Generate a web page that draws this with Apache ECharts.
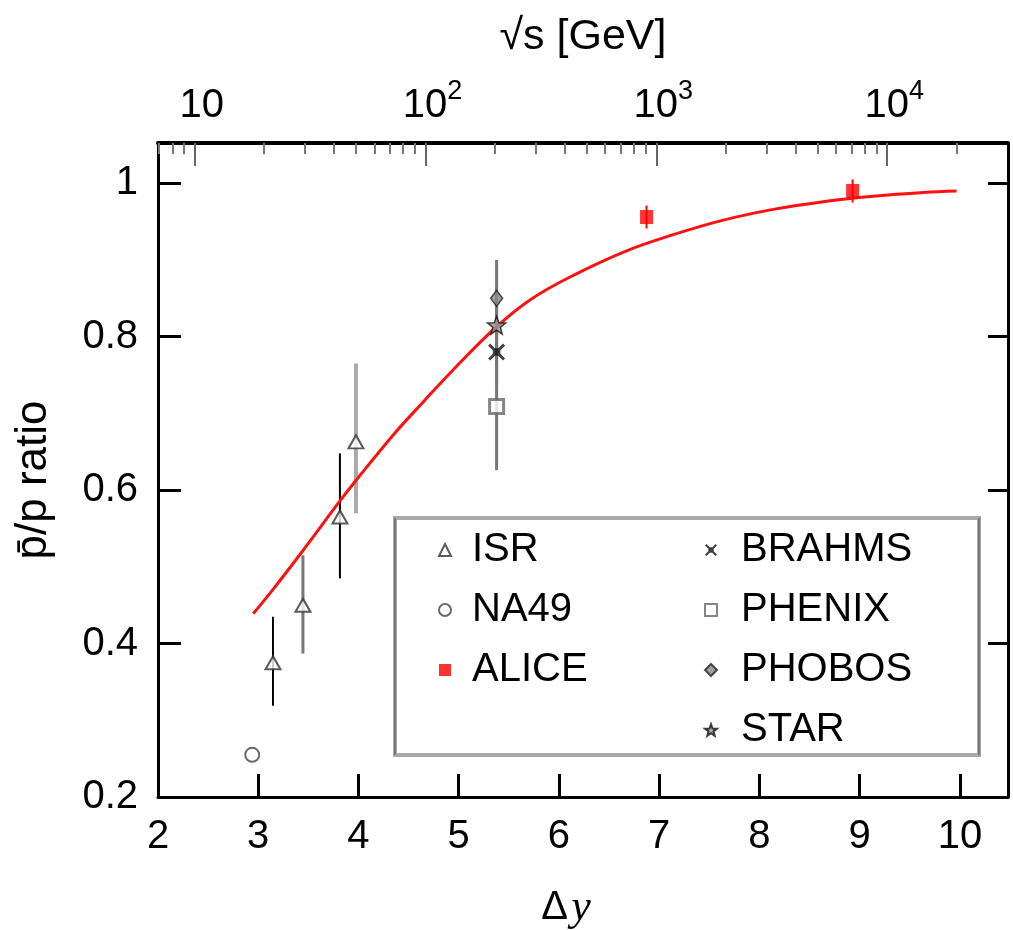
<!DOCTYPE html>
<html>
<head>
<meta charset="utf-8">
<script src="https://cdn.jsdelivr.net/npm/echarts@6/dist/echarts.min.js"></script>
<style>
html,body{margin:0;padding:0;background:#fff;}
#chart{width:1013px;height:930px;}
</style>
</head>
<body>
<div id="chart"></div>
<script>
// ---------- data ----------
const xTicks = [2, 3, 4, 5, 6, 7, 8, 9, 10];
const yTicks = [0.2, 0.4, 0.6, 0.8, 1];
const sqrtSMajor = [10, 100, 1000, 10000];
const sqrtSMinorMult = [2, 3, 4, 5, 6, 7, 8, 9];
const protonMass = 0.938; // GeV, Δy = ln(√s / m_p)

const isrDy = [3.147, 3.446, 3.815, 3.975];
const isrRatio = [0.375, 0.450, 0.565, 0.663];
const isrLow = [0.319, 0.387, 0.485, 0.570];
const isrHigh = [0.435, 0.515, 0.648, 0.765];

const na49Dy = [2.94];
const na49Ratio = [0.255];

const aliceDy = [6.874, 8.93];
const aliceRatio = [0.956, 0.990];
const aliceLow = [0.941, 0.975];
const aliceHigh = [0.971, 1.005];

const rhicDy = [5.378];
const brahmsRatio = [0.780];
const brahmsLow = [0.740];
const brahmsHigh = [0.820];
const phenixRatio = [0.709];
const phenixLow = [0.626];
const phenixHigh = [0.790];
const phobosRatio = [0.850];
const phobosLow = [0.800];
const phobosHigh = [0.900];
const starRatio = [0.815];
const starLow = [0.780];
const starHigh = [0.850];

const fitDy = [2.95, 3.15, 3.45, 3.815, 3.965, 4.347, 4.646, 4.946, 5.378, 5.711, 6.143, 6.675, 7.14, 7.64, 8.138, 8.637, 9.136, 9.634, 9.967];
const fitRatio = [0.439, 0.471, 0.522, 0.586, 0.611, 0.672, 0.715, 0.757, 0.813, 0.848, 0.880, 0.912, 0.933, 0.952, 0.966, 0.976, 0.983, 0.988, 0.990];

// ---------- styles ----------
const FONT = '"Liberation Sans", Arial, Helvetica, sans-serif';
const isrBarColors = ['#000', '#777', '#000', '#aaa'];
const isrBarWidths = [2, 3, 2, 4];

const X_MIN = 2, X_MAX = 10.48, Y_MIN = 0.2, Y_MAX = 1.0525;

const toDy = s => Math.log(s / protonMass);
const majorDy = sqrtSMajor.map(toDy);
const minorDy = [];
[1].concat(sqrtSMajor).forEach(dec => {
  sqrtSMinorMult.forEach(m => {
    const s = dec * m;
    const d = toDy(s);
    if (d > X_MIN && d < X_MAX && s <= 20000) minorDy.push(d);
  });
});

function pts(xs, ys) { return ys.map((y, i) => [xs.length === 1 ? xs[0] : xs[i], y]); }
function bars(xs, lo, hi) { return lo.map((l, i) => [xs.length === 1 ? xs[0] : xs[i], l, hi[i]]); }

function errBarSeries(data, colorFn, widthFn, z) {
  return {
    type: 'custom',
    z: z || 1,
    silent: true,
    data: data,
    encode: { x: 0, y: [1, 2] },
    renderItem: function (params, api) {
      const x = api.value(0);
      const p1 = api.coord([x, api.value(1)]);
      const p2 = api.coord([x, api.value(2)]);
      return {
        type: 'line',
        shape: { x1: p1[0], y1: p1[1], x2: p2[0], y2: p2[1] },
        style: { stroke: colorFn(params.dataIndex), lineWidth: widthFn(params.dataIndex) }
      };
    }
  };
}

const starPath = 'path://M10,0 L12.6,7.2 L20,7.4 L14.2,12 L16.2,19.4 L10,15 L3.8,19.4 L5.8,12 L0,7.4 L7.4,7.2 Z';
const brahmsPath = 'path://M0,2.5 L2.5,0 L10,7.5 L17.5,0 L20,2.5 L12.5,10 L20,17.5 L17.5,20 L10,12.5 L2.5,20 L0,17.5 L7.5,10 Z M5.5,5.5 L14.5,5.5 L14.5,14.5 L5.5,14.5 Z';

const labelStyle = { fontFamily: FONT, fontSize: 40, color: '#000' };

const option = {
  animation: false,
  backgroundColor: '#fff',
  grid: { left: 158, right: 5, top: 143, bottom: 133, containLabel: false, outerBoundsMode: 'none' },
  xAxis: [
    {
      type: 'value', position: 'bottom', min: X_MIN, max: X_MAX,
      axisLine: { show: true, onZero: false, lineStyle: { color: '#000', width: 3 } },
      axisTick: { show: true, inside: true, length: 23, customValues: xTicks, lineStyle: { color: '#000', width: 3 } },
      axisLabel: Object.assign({ customValues: xTicks, margin: 20 }, labelStyle),
      splitLine: { show: false },
      name: '{d|Δ} {i|y}',
      nameLocation: 'middle',
      nameGap: 89,
      nameTextStyle: {
        padding: [0, 34, 0, 0],
        rich: {
          d: { fontFamily: FONT, fontSize: 40, color: '#000' },
          i: { fontFamily: '"Liberation Serif", "DejaVu Serif", serif', fontStyle: 'italic', fontSize: 44, color: '#000' }
        }
      }
    },
    {
      type: 'value', position: 'top', min: X_MIN, max: X_MAX,
      axisLine: { show: true, onZero: false, lineStyle: { color: '#000', width: 4 } },
      axisTick: { show: true, inside: true, length: 23, customValues: majorDy, lineStyle: { color: '#666', width: 2 } },
      axisLabel: {
        customValues: majorDy,
        margin: 9,
        padding: [0, 0, 0, 14],
        formatter: function (v) {
          const n = Math.round(Math.log10(protonMass * Math.exp(v)));
          return n === 1 ? '{b|10}' : '{b|10}{s|' + n + '}';
        },
        rich: {
          b: { fontFamily: FONT, fontSize: 40, color: '#000', lineHeight: 56 },
          s: { fontFamily: FONT, fontSize: 27, color: '#000', verticalAlign: 'top', lineHeight: 27 }
        }
      },
      splitLine: { show: false },
      name: '√s [GeV]',
      nameLocation: 'middle',
      nameGap: 84,
      nameTextStyle: { fontFamily: FONT, fontSize: 43, color: '#000' }
    },
    {
      type: 'value', position: 'top', min: X_MIN, max: X_MAX,
      axisLine: { show: false },
      axisTick: { show: true, inside: true, length: 11, customValues: minorDy, lineStyle: { color: '#777', width: 2 } },
      axisLabel: { show: false },
      splitLine: { show: false }
    }
  ],
  yAxis: [
    {
      type: 'value', position: 'left', min: Y_MIN, max: Y_MAX,
      axisLine: { show: true, onZero: false, lineStyle: { color: '#000', width: 3 } },
      axisTick: { show: true, inside: true, length: 23, customValues: yTicks, lineStyle: { color: '#000', width: 3 } },
      axisLabel: Object.assign({ customValues: yTicks, margin: 20 }, labelStyle),
      splitLine: { show: false },
      name: 'p\u0304/p ratio',
      nameLocation: 'middle',
      nameGap: 102,
      nameTextStyle: { fontFamily: FONT, fontSize: 44, color: '#000', padding: [0, 20, 0, 0] }
    },
    {
      type: 'value', position: 'right', min: Y_MIN, max: Y_MAX,
      axisLine: { show: true, onZero: false, lineStyle: { color: '#000', width: 3 } },
      axisTick: { show: true, inside: true, length: 20, customValues: yTicks, lineStyle: { color: '#000', width: 3 } },
      axisLabel: { show: false },
      splitLine: { show: false }
    }
  ],
  legend: [
    {
      data: ['ISR', 'NA49', 'ALICE'],
      orient: 'vertical', left: 438, top: 530, padding: 0,
      itemWidth: 12, itemHeight: 12, itemGap: 20, selectedMode: false,
      textStyle: { fontFamily: FONT, fontSize: 40, color: '#000', lineHeight: 40, padding: [0, 0, 0, 16] }
    },
    {
      data: ['BRAHMS', 'PHENIX', 'PHOBOS', 'STAR'],
      orient: 'vertical', left: 704, top: 530, padding: 0,
      itemWidth: 12, itemHeight: 12, itemGap: 20, selectedMode: false,
      textStyle: { fontFamily: FONT, fontSize: 40, color: '#000', lineHeight: 40, padding: [0, 0, 0, 19] }
    }
  ],
  graphic: [
    { type: 'rect', z: 0, shape: { x: 395, y: 518, width: 584, height: 237 }, style: { fill: '#fff', stroke: '#aaa', lineWidth: 4 } },
    { type: 'line', z: 1, shape: { x1: 395, y1: 518, x2: 395, y2: 755 }, style: { stroke: '#777', lineWidth: 2 } },
    { type: 'line', z: 1, shape: { x1: 979, y1: 518, x2: 979, y2: 755 }, style: { stroke: '#777', lineWidth: 2 } }
  ],
  series: [
    errBarSeries(bars(isrDy, isrLow, isrHigh), i => isrBarColors[i], i => isrBarWidths[i]),
    errBarSeries(bars(rhicDy, phenixLow, phenixHigh), () => '#777', () => 3),
    errBarSeries(bars(rhicDy, phobosLow, phobosHigh), () => '#777', () => 3),
    errBarSeries(bars(rhicDy, brahmsLow, brahmsHigh), () => '#777', () => 3),
    errBarSeries(bars(rhicDy, starLow, starHigh), () => '#777', () => 3),
    errBarSeries(bars(aliceDy, aliceLow, aliceHigh), () => '#f00', () => 2),
    {
      name: 'fit', type: 'line', z: 2, data: pts(fitDy, fitRatio),
      smooth: 0.4, showSymbol: false, silent: true,
      lineStyle: { color: '#ff1010', width: 3 }
    },
    {
      name: 'ISR', type: 'scatter', z: 3, data: pts(isrDy, isrRatio),
      symbol: 'triangle', symbolSize: [15, 13],
      itemStyle: { color: '#fff', borderColor: '#333', borderWidth: 2 }
    },
    {
      name: 'NA49', type: 'scatter', z: 3, data: pts(na49Dy, na49Ratio),
      symbol: 'circle', symbolSize: 14,
      itemStyle: { color: '#fff', borderColor: '#444', borderWidth: 2 }
    },
    {
      name: 'ALICE', type: 'scatter', z: 3, data: pts(aliceDy, aliceRatio),
      symbol: 'rect', symbolSize: [13, 14],
      itemStyle: { color: '#ff0000' }
    },
    {
      name: 'BRAHMS', type: 'scatter', z: 3, data: pts(rhicDy, brahmsRatio),
      symbol: brahmsPath, symbolSize: 17,
      itemStyle: { color: '#111' }
    },
    {
      name: 'PHENIX', type: 'scatter', z: 3, data: pts(rhicDy, phenixRatio),
      symbol: 'rect', symbolSize: 14,
      itemStyle: { color: '#fff', borderColor: '#666', borderWidth: 3 }
    },
    {
      name: 'PHOBOS', type: 'scatter', z: 3, data: pts(rhicDy, phobosRatio),
      symbol: 'diamond', symbolSize: [12, 16],
      itemStyle: { color: '#888', borderColor: '#222', borderWidth: 1.5 }
    },
    {
      name: 'STAR', type: 'scatter', z: 3, data: pts(rhicDy, starRatio),
      symbol: starPath, symbolSize: 18,
      itemStyle: { color: '#999', borderColor: '#111', borderWidth: 1.5 }
    }
  ]
};

const chart = echarts.init(document.getElementById('chart'), null, { renderer: 'canvas' });
chart.setOption(option);
</script>
</body>
</html>
